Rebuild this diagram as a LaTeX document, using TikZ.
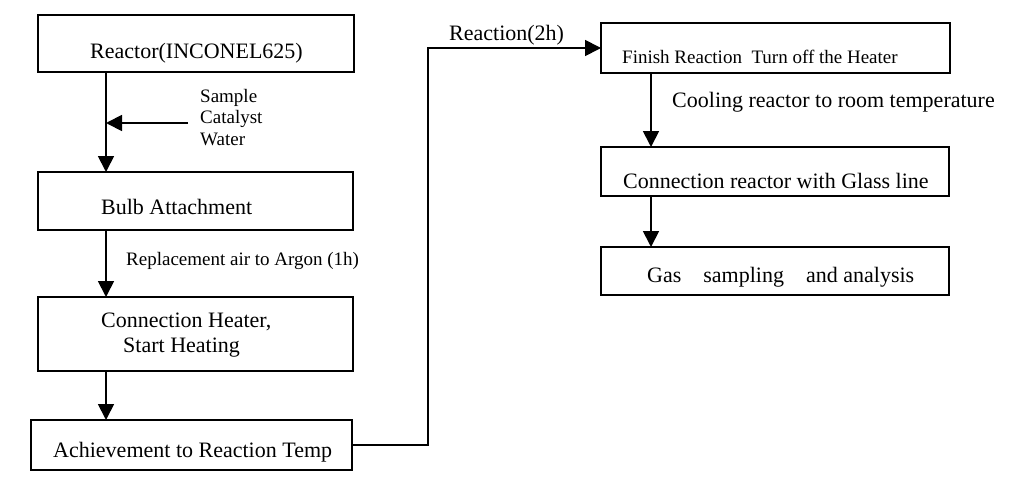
\documentclass[tikz,border=0pt]{standalone}
\usepackage{fontspec}
\setmainfont{Liberation Serif}
\usetikzlibrary{arrows.meta}
\begin{document}
\begin{tikzpicture}[x=1pt,y=-1pt,
  box/.style={draw, line width=1.8pt, inner sep=0pt, outer sep=0pt, anchor=north west},
  big/.style={font=\fontsize{22}{25}\selectfont, inner sep=0pt, anchor=base west},
  small/.style={font=\fontsize{19}{21.5}\selectfont, inner sep=0pt, anchor=base west},
  arr/.style={line width=1.8pt, -{Triangle[length=16pt,width=16pt]}},
  conn/.style={line width=1.8pt}]
\useasboundingbox (0,0) rectangle (1019,484);
% boxes
\node[box, minimum width=316pt, minimum height=57pt] (b1) at (38,15) {};
\node[box, minimum width=315pt, minimum height=58pt] (b2) at (38,172) {};
\node[box, minimum width=315pt, minimum height=74pt] (b3) at (38,297) {};
\node[box, minimum width=321pt, minimum height=50pt] (b4) at (31,420) {};
\node[box, minimum width=349pt, minimum height=50pt] (b5) at (601,23) {};
\node[box, minimum width=348pt, minimum height=49pt] (b6) at (601,147) {};
\node[box, minimum width=348pt, minimum height=48pt] (b7) at (601,247) {};
% box texts
\node[big] (t1) at (90,59) {Reactor(INCONEL625)};
\node[big] (t2) at (101,214) {Bulb Attachment};
\node[big] (t3a) at (101,327) {Connection Heater,};
\node[big] (t3b) at (123,352) {Start Heating};
\node[big] (t4) at (53,457) {Achievement to Reaction Temp};
\node[small] (t5) at (622,64) {Finish Reaction~~Turn off the Heater};
\node[big] (t6) at (623,188) {Connection reactor with Glass line};
\node[big] (t7) at (647,282) {Gas\quad sampling\quad and analysis};
% labels
\node[small, align=left] (l1) at (200,145) {Sample\\Catalyst\\Water};
\node[small] (l2) at (126,265) {Replacement air to Argon (1h)};
\node[big] (l3) at (449,41) {Reaction(2h)};
\node[big] (l4) at (672,107) {Cooling reactor to room temperature};
% connectors
\coordinate (xl) at (106,0);
\coordinate (xr) at (651,0);
\coordinate (xv) at (428,0);
\coordinate (sw) at (188,123);
\draw[arr] (b1.south -| xl) -- (b2.north -| xl);
\draw[arr] (sw) -- (sw -| xl);
\draw[arr] (b2.south -| xl) -- (b3.north -| xl);
\draw[arr] (b3.south -| xl) -- (b4.north -| xl);
\draw[arr] (b4.east) -| (xv |- b5.west) -- (b5.west);
\draw[arr] (b5.south -| xr) -- (b6.north -| xr);
\draw[arr] (b6.south -| xr) -- (b7.north -| xr);
\end{tikzpicture}
\end{document}
